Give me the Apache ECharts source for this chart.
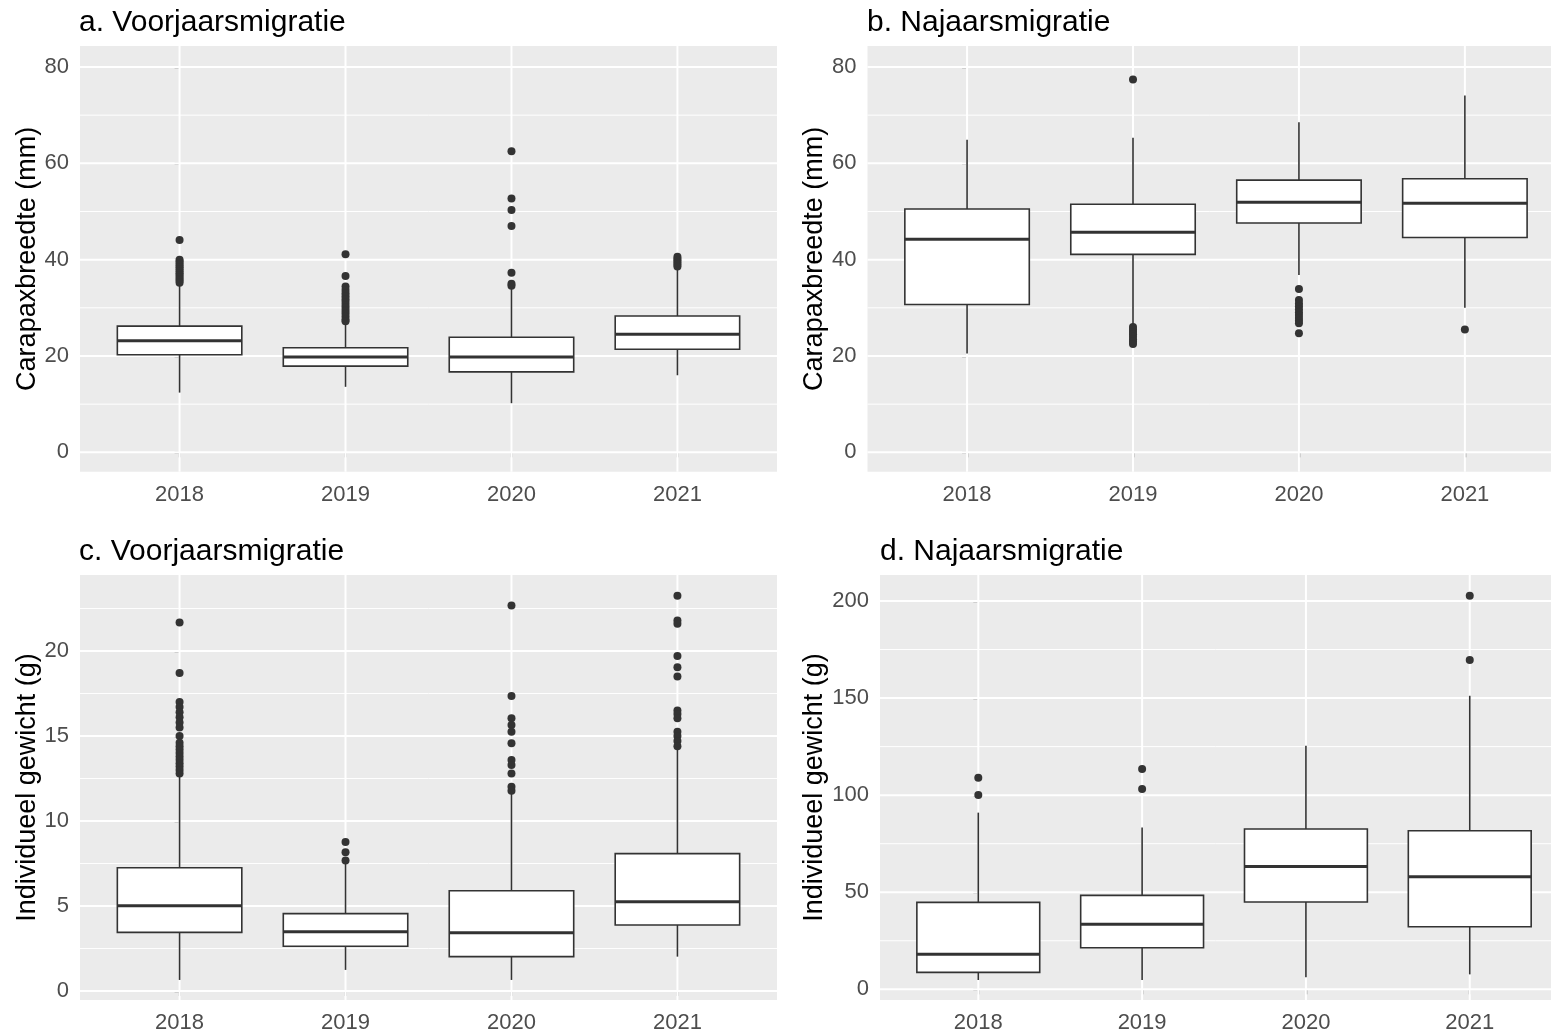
<!DOCTYPE html>
<html><head><meta charset="utf-8">
<script src="https://cdn.jsdelivr.net/npm/echarts@6/dist/echarts.min.js"></script>
<style>html,body{margin:0;padding:0;background:#fff}#c{width:1551px;height:1036px}</style>
</head><body><div id="c"></div>
<script>
const years = ['2018', '2019', '2020', '2021'];

// Box summaries per year: [lower whisker, Q1, median, Q3, upper whisker]
const springWidthBoxes = [
  [12.4, 20.25, 23.15, 26.2, 34.8],
  [13.6, 17.9, 19.8, 21.7, 26.9],
  [10.2, 16.7, 19.8, 23.9, 33.9],
  [16.0, 21.4, 24.5, 28.3, 38.2]
];
const springWidthOutliers = [
  [44.1, 40.0, 39.6, 39.2, 38.8, 38.4, 38.0, 37.6, 37.2, 36.8, 36.4, 36.0, 35.6, 35.2],
  [41.1, 36.6, 34.4, 33.7, 33.0, 32.4, 31.8, 31.2, 30.6, 30.0, 29.4, 28.8, 28.2, 27.6, 27.2],
  [62.5, 52.7, 50.3, 47.0, 37.3, 35.0, 34.6],
  [40.6, 40.2, 39.8, 39.4, 39.0, 38.6]
];

const autumnWidthBoxes = [
  [20.5, 30.7, 44.25, 50.5, 64.9],
  [26.3, 41.1, 45.7, 51.5, 65.3],
  [36.8, 47.6, 51.9, 56.5, 68.5],
  [30.0, 44.6, 51.7, 56.8, 74.1]
];
const autumnWidthOutliers = [
  [],
  [77.4, 26.0, 25.5, 25.0, 24.5, 24.0, 23.5, 23.0, 22.5],
  [33.9, 31.6, 30.9, 30.3, 29.7, 29.1, 28.5, 27.9, 27.3, 26.8, 24.7],
  [25.5]
];

const springWeightBoxes = [
  [0.65, 3.45, 5.02, 7.25, 12.7],
  [1.24, 2.63, 3.49, 4.55, 7.5],
  [0.65, 2.02, 3.43, 5.9, 11.6],
  [2.02, 3.88, 5.25, 8.08, 14.3]
];
const springWeightOutliers = [
  [21.67, 18.7, 17.0, 16.7, 16.4, 16.1, 15.8, 15.5, 15.0, 14.6, 14.4, 14.2, 14.0, 13.8, 13.6, 13.4, 13.2, 13.0, 12.8],
  [8.76, 8.16, 7.67],
  [22.67, 17.35, 16.04, 15.65, 15.25, 14.57, 13.59, 13.29, 12.8, 12.02, 11.78],
  [23.25, 21.8, 21.6, 19.7, 19.04, 18.5, 16.5, 16.3, 16.04, 15.25, 15.0, 14.7, 14.4]
];

const autumnWeightBoxes = [
  [4.8, 8.75, 18.0, 44.8, 91.0],
  [4.8, 21.4, 33.5, 48.4, 83.4],
  [6.2, 45.0, 63.2, 82.6, 125.5],
  [7.7, 32.2, 58.0, 81.7, 151.2]
];
const autumnWeightOutliers = [
  [109.0, 100.1],
  [113.5, 103.2],
  [],
  [202.7, 169.6]
];

// axis ticks and ranges
const widthTicks = [0, 20, 40, 60, 80];
const widthMinor = [10, 30, 50, 70];
const springWeightTicks = [0, 5, 10, 15, 20];
const springWeightMinor = [2.5, 7.5, 12.5, 17.5, 22.5];
const autumnWeightTicks = [0, 50, 100, 150, 200];
const autumnWeightMinor = [25, 75, 125, 175];
const widthRange = [-4.02, 84.35];
const springWeightRange = [-0.53, 24.47];
const autumnWeightRange = [-5.5, 213.4];

const titles = ['a. Voorjaarsmigratie', 'b. Najaarsmigratie', 'c. Voorjaarsmigratie', 'd. Najaarsmigratie'];
const yNames = ['Carapaxbreedte (mm)', 'Carapaxbreedte (mm)', 'Individueel gewicht (g)', 'Individueel gewicht (g)'];

const FONT = 'Liberation Sans';
// right-hand panels are cut off by the picture edge, so their x range ends early
const panels = [
  {grid: {left: 80, top: 46, width: 697, height: 425.7}, xMax: 3.6, boxes: springWidthBoxes, out: springWidthOutliers, ticks: widthTicks, minor: widthMinor, range: widthRange, gap: 38, title: {left: 79, top: 8}},
  {grid: {left: 867.5, top: 46, width: 683.5, height: 425.7}, xMax: 3.519, boxes: autumnWidthBoxes, out: autumnWidthOutliers, ticks: widthTicks, minor: widthMinor, range: widthRange, gap: 38, title: {left: 867, top: 8}},
  {grid: {left: 80, top: 575, width: 697, height: 425}, xMax: 3.6, boxes: springWeightBoxes, out: springWeightOutliers, ticks: springWeightTicks, minor: springWeightMinor, range: springWeightRange, gap: 37, title: {left: 79, top: 537}},
  {grid: {left: 880, top: 575, width: 671, height: 425}, xMax: 3.496, boxes: autumnWeightBoxes, out: autumnWeightOutliers, ticks: autumnWeightTicks, minor: autumnWeightMinor, range: autumnWeightRange, gap: 49, title: {left: 880, top: 537}}
];

const catIdx = years.map((y, i) => i);

function renderGridLine(params, api) {
  const cs = params.coordSys;
  const kind = api.value(0);
  const v = api.value(1);
  if (kind < 2) {
    const y = api.coord([0, v])[1];
    return {type: 'line', shape: {x1: cs.x, y1: y, x2: cs.x + cs.width, y2: y},
      style: {stroke: '#FFFFFF', lineWidth: kind === 0 ? 2 : 1}};
  }
  const x = api.coord([v, 0])[0];
  return {type: 'line', shape: {x1: x, y1: cs.y, x2: x, y2: cs.y + cs.height},
    style: {stroke: '#FFFFFF', lineWidth: 2}};
}

function renderBox(params, api) {
  const x = api.value(0);
  const lo = api.coord([x, api.value(1)]);
  const q1 = api.coord([x, api.value(2)]);
  const md = api.coord([x, api.value(3)]);
  const q3 = api.coord([x, api.value(4)]);
  const hi = api.coord([x, api.value(5)]);
  const half = api.size([0.75, 0])[0] / 2;
  const cx = lo[0];
  const st = {stroke: '#333333', lineWidth: 1.6};
  return {type: 'group', children: [
    {type: 'line', shape: {x1: cx, y1: q3[1], x2: cx, y2: hi[1]}, style: st},
    {type: 'line', shape: {x1: cx, y1: q1[1], x2: cx, y2: lo[1]}, style: st},
    {type: 'rect', shape: {x: cx - half, y: q3[1], width: 2 * half, height: q1[1] - q3[1]},
      style: {fill: '#FFFFFF', stroke: '#333333', lineWidth: 1.6}},
    {type: 'line', shape: {x1: cx - half, y1: md[1], x2: cx + half, y2: md[1]},
      style: {stroke: '#333333', lineWidth: 3}}
  ]};
}

const option = {
  animation: false,
  backgroundColor: '#FFFFFF',
  title: [], grid: [], xAxis: [], yAxis: [], series: []
};

panels.forEach((p, k) => {
  option.title.push({text: titles[k], left: p.title.left, top: p.title.top, padding: 0,
    textStyle: {fontFamily: FONT, fontSize: 30, fontWeight: 'normal', color: '#000000'}});
  option.grid.push(Object.assign({show: true, backgroundColor: '#EBEBEB', borderWidth: 0, containLabel: false}, p.grid));
  option.xAxis.push({
    gridIndex: k, type: 'value', min: -0.6, max: p.xMax,
    axisLine: {show: false},
    axisTick: {show: true, length: 5, customValues: catIdx, lineStyle: {color: '#333333', width: 1.3}},
    axisLabel: {customValues: catIdx, margin: 12, formatter: v => years[Math.round(v)],
      fontFamily: FONT, fontSize: 22, color: '#4D4D4D'},
    splitLine: {show: false}
  });
  option.yAxis.push({
    gridIndex: k, type: 'value', min: p.range[0], max: p.range[1],
    name: yNames[k], nameLocation: 'middle', nameGap: p.gap,
    nameTextStyle: {fontFamily: FONT, fontSize: 27, color: '#000000'},
    axisLine: {show: false},
    axisTick: {show: true, length: 5, customValues: p.ticks, lineStyle: {color: '#333333', width: 1.3}},
    axisLabel: {customValues: p.ticks, margin: 11, fontFamily: FONT, fontSize: 22, color: '#4D4D4D'},
    splitLine: {show: false}
  });
  const gridData = []
    .concat(p.ticks.map(v => [0, v]))
    .concat(p.minor.map(v => [1, v]))
    .concat(catIdx.map(v => [2, v]));
  option.series.push({
    type: 'custom', xAxisIndex: k, yAxisIndex: k, z: 1, silent: true,
    renderItem: renderGridLine, data: gridData, clip: false
  });
  option.series.push({
    type: 'custom', xAxisIndex: k, yAxisIndex: k, z: 3, silent: true,
    renderItem: renderBox, data: p.boxes.map((b, i) => [i].concat(b)),
    encode: {x: 0, y: [1, 2, 3, 4, 5]}
  });
  const pts = [];
  p.out.forEach((arr, i) => arr.forEach(v => pts.push([i, v])));
  option.series.push({
    type: 'scatter', xAxisIndex: k, yAxisIndex: k, z: 4, silent: true,
    symbol: 'circle', symbolSize: 8, itemStyle: {color: '#333333', opacity: 1}, data: pts
  });
});

const chart = echarts.init(document.getElementById('c'), null, {renderer: 'canvas'});
chart.setOption(option);
</script>
</body></html>
